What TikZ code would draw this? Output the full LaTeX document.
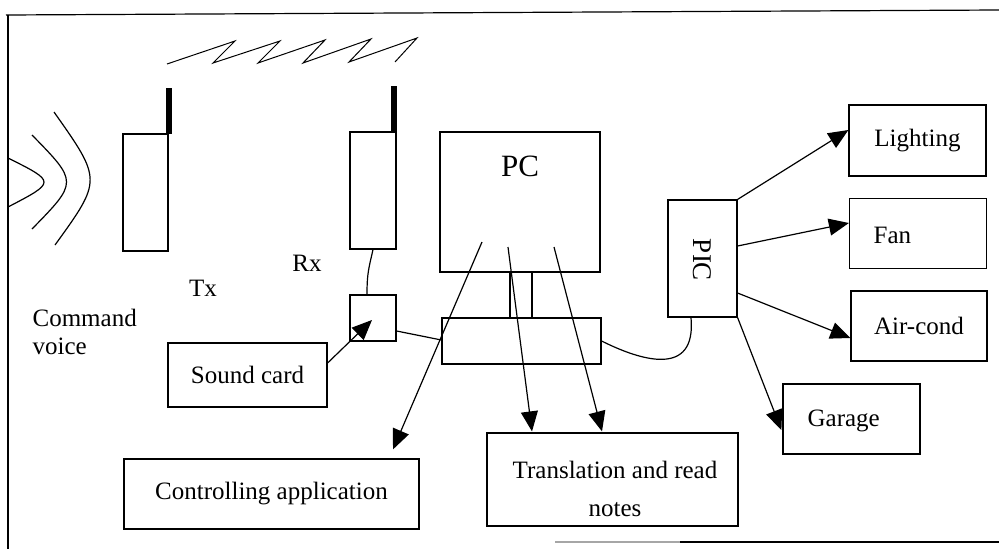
\documentclass[tikz,border=0pt]{standalone}
\usepackage{fontspec}
\setmainfont{Liberation Serif}
\usetikzlibrary{arrows.meta,calc}
\begin{document}
\begin{tikzpicture}[x=1pt,y=-1pt, line width=1.2pt,
  box/.style={draw, rectangle, inner sep=0pt},
  lbl/.style={font=\fontsize{25}{30}\selectfont, inner sep=0pt},
  ant/.style={fill=black, draw=none, inner sep=0pt, minimum width=6pt},
  arr/.style={-{Triangle[length=20pt,width=17pt]}}]
\useasboundingbox (0,0) rectangle (999,549);
% frame
\draw (6,15) -- (999,10);
\draw (8,15) -- (8,549);
\draw[gray!70] (555,542) -- (680,542);
\draw (680,542) -- (999,542);
% voice waves
\draw (8,158) .. controls (56,182) .. (8,207);
\draw (32,135) .. controls (78,182) .. (32,229);
\draw (54,112) .. controls (102,180) .. (55,245);
% radio link
\draw[line width=1pt] (167,64) -- (235,41) -- (213,63) -- (280,41) -- (258,63) -- (325,40) -- (303,63) -- (371,39) -- (349,62) -- (417,38) -- (395,62);
% transmitter / receiver
\node[box, minimum width=45pt, minimum height=117pt] (tx) at (145.5,192.5) {};
\node[ant, minimum height=46pt] (txant) at (168.5,111) {};
\node[box, minimum width=46pt, minimum height=117pt] (rx) at (373,190.5) {};
\node[ant, minimum height=46pt] (rxant) at (394,109) {};
\node[lbl] (txl) at (203,288) {Tx};
\node[lbl] (rxl) at (307,263) {Rx};
\node[lbl, align=left, anchor=north west, font=\fontsize{25}{28}\selectfont] (cmd) at (32,309) {Command\\voice};
% jack and sound card
\node[box, minimum width=46pt, minimum height=46pt] (jack) at (373,318) {};
\node[box, lbl, minimum width=159pt, minimum height=64pt] (sound) at (247.5,375) {Sound card};
% PC and interface
\node[box, minimum width=160pt, minimum height=140pt] (pc) at (520,202) {};
\node[lbl, font=\fontsize{31}{36}\selectfont] (pcl) at (520,166) {PC};
\node[box, minimum width=159pt, minimum height=46pt] (iface) at (521.5,341) {};
% applications
\node[box, lbl, minimum width=295pt, minimum height=70pt] (ctrl) at (271.5,494) {Controlling application};
\node[box, minimum width=251pt, minimum height=93pt] (trans) at (612.5,479.5) {};
\node[lbl, align=center, font=\fontsize{25}{38}\selectfont] (transl) at (615,489) {Translation and read\\notes};
% PIC and devices
\node[box, minimum width=69pt, minimum height=117pt] (pic) at (702.5,258.5) {};
\node[lbl, rotate=-90, font=\fontsize{27}{30}\selectfont] (picl) at (702,260) {PIC};
\node[box, lbl, minimum width=137pt, minimum height=71pt] (light) at (917.5,140.5) {Lighting};
\node[box, minimum width=137pt, minimum height=70pt] (fan) at (918,233.5) {};
\node[lbl, anchor=west] (fanl) at (873,235) {Fan};
\node[box, lbl, minimum width=136pt, minimum height=70pt] (air) at (919,326) {Air-cond};
\node[box, minimum width=137pt, minimum height=70pt] (garage) at (851.5,419) {};
\node[lbl, anchor=west] (garagel) at (807,421) {Garage};
% wires
\draw (rx.south) .. controls ($(rx.south)+(-4,18)$) and ($(jack.north)+(-6,-22)$) .. ($(jack.north)+(-6,0)$);
\draw[arr] ($(sound.east)+(0,-12)$) -- ($(jack.center)+(-1,2)$);
\draw ($(jack.east)+(0,13)$) -- ($(iface.west)+(0,-1)$);
\draw ($(pc.south)+(-10,0)$) -- ($(iface.north)+(-11.5,0)$);
\draw ($(pc.south)+(12,0)$) -- ($(iface.north)+(10.5,0)$);
\draw[arr] ($(pc.center)+(-38,40)$) -- ($(ctrl.north)+(121.5,-9)$);
\draw[arr] ($(pc.center)+(-12,45)$) -- ($(trans.north)+(-80.5,-1)$);
\draw[arr] ($(pc.center)+(34,45)$) -- ($(trans.north)+(-10.5,-1)$);
\draw (iface.east) .. controls ($(iface.east)+(40,20)$) and ($(pic.south)+(-6,60)$) .. ($(pic.south)+(-11.5,0)$);
\draw[arr] (pic.north east) -- ($(light.west)+(0,-10.5)$);
\draw[arr] ($(pic.east)+(0,-12.5)$) -- ($(fan.west)+(0,-10.5)$);
\draw[arr] ($(pic.east)+(0,34.5)$) -- ($(air.west)+(0,12)$);
\draw[arr] (pic.south east) -- ($(garage.west)+(-1,11)$);
\end{tikzpicture}
\end{document}
